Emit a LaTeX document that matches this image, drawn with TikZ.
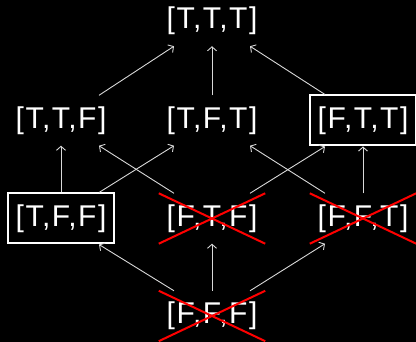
\documentclass[tikz,border=0pt]{standalone}
\usepackage{fontspec}
\setmainfont{Liberation Sans}
\newfontfamily\latfont[LetterSpace=5]{Liberation Sans}
\usetikzlibrary{arrows.meta,calc}
\definecolor{edgecol}{HTML}{D8D8D8}
\begin{document}
\begin{tikzpicture}[x=1pt,y=-1pt,
  lat/.style={text=white,font=\latfont\fontsize{30}{31}\selectfont,minimum width=106pt,minimum height=50pt,inner sep=0pt},
  boxed/.style={draw=white,line width=2pt},
  edge/.style={draw=edgecol,line width=0.9pt,-{Straight Barb[length=4pt,width=9pt,line width=0.9pt]}},
  cross/.style={draw=red,line width=2pt}]
\fill[black] (0,0) rectangle (416,342);
\useasboundingbox (0,0) rectangle (416,342);
\node[lat] (ttt) at (212,21) {[T,T,T]};
\node[lat] (ttf) at (61,120.5) {[T,T,F]};
\node[lat] (tft) at (212,120.5) {[T,F,T]};
\node[lat,boxed] (ftt) at (363,120.5) {[F,T,T]};
\node[lat,boxed] (tff) at (61,218.5) {[T,F,F]};
\node[lat] (ftf) at (212,218.5) {[F,T,F]};
\node[lat] (fft) at (363,218.5) {[F,F,T]};
\node[lat] (fff) at (212,316) {[F,F,F]};
% edges
\draw[edge] ($(ttf.north)+(38,0)$) -- ($(ttt.south)+(-38,0)$);
\draw[edge] (tft.north) -- (ttt.south);
\draw[edge] ($(ftt.north)+(-38,0)$) -- ($(ttt.south)+(38,0)$);
\draw[edge] (tff.north) -- (ttf.south);
\draw[edge] ($(tff.north)+(38,0)$) -- ($(tft.south)+(-38,0)$);
\draw[edge] ($(ftf.north)+(-38,0)$) -- ($(ttf.south)+(38,0)$);
\draw[edge] ($(ftf.north)+(38,0)$) -- ($(ftt.south)+(-38,0)$);
\draw[edge] ($(fft.north)+(-38,0)$) -- ($(tft.south)+(38,0)$);
\draw[edge] (fft.north) -- (ftt.south);
\draw[edge] ($(fff.north)+(-38,0)$) -- ($(tff.south)+(38,0)$);
\draw[edge] (fff.north) -- (ftf.south);
\draw[edge] ($(fff.north)+(38,0)$) -- ($(fft.south)+(-38,0)$);
% crosses
\foreach \n in {ftf,fft,fff}{
  \draw[cross] (\n.north west) -- (\n.south east);
  \draw[cross] (\n.south west) -- (\n.north east);
}
\end{tikzpicture}
\end{document}
